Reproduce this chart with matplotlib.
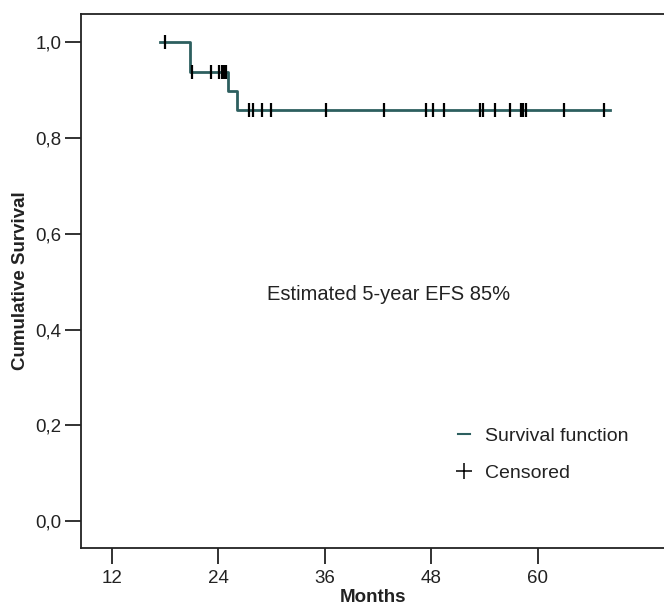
import matplotlib
matplotlib.use("Agg")
import matplotlib.pyplot as plt
from matplotlib.lines import Line2D

# Kaplan-Meier steps (months, cumulative survival)
step_times = [17.4, 20.8, 25.1, 26.1, 68.1]
step_surv = [1.0, 0.9375, 0.898, 0.859, 0.859]

# censored observations (months) and the survival level at each
censor_times = [18.0, 21.0, 23.2, 24.1, 24.4, 24.6, 24.85,
                27.4, 27.9, 28.9, 29.9, 36.1, 42.6, 47.4, 48.2, 49.4,
                53.5, 53.8, 55.2, 56.85, 58.05, 58.35, 58.65, 62.9, 67.4]
censor_surv = [1.0] + [0.9375] * 6 + [0.859] * 18

x_ticks = [12, 24, 36, 48, 60]
y_ticks = [0.0, 0.2, 0.4, 0.6, 0.8, 1.0]
y_tick_labels = ["0,0", "0,2", "0,4", "0,6", "0,8", "1,0"]

line_color = "#2d5f5f"
text_color = "#222222"
plt.rcParams["font.family"] = ["Liberation Sans", "DejaVu Sans"]

fig = plt.figure(figsize=(6.64, 6.08), dpi=100)
ax = fig.add_axes([0.1224, 0.0987, 0.8776, 0.8788])

ax.step(step_times, step_surv, where="post", color=line_color, lw=2.0)
ax.plot(censor_times, censor_surv, linestyle="none", marker="|",
        color="black", markersize=10, markeredgewidth=1.6)

ax.set_xlim(8.54, 74.2)
ax.set_ylim(-0.0564, 1.0598)
ax.set_xticks(x_ticks)
ax.set_yticks(y_ticks)
ax.set_yticklabels(y_tick_labels)
ax.tick_params(length=11.5, width=1.3, labelsize=13.5, colors=text_color, pad=3)
ax.tick_params(axis="x", pad=4)
for side in ["left", "top", "bottom"]:
    ax.spines[side].set_linewidth(1.3)
    ax.spines[side].set_color(text_color)
ax.spines["right"].set_visible(False)

ax.set_xlabel("Months", fontsize=13.5, fontweight="bold", labelpad=2,
              color=text_color)
ax.set_ylabel("Cumulative Survival", fontsize=13.5, fontweight="bold",
              labelpad=4, color=text_color)

ax.text(43.2, 0.474, "Estimated 5-year EFS 85%", fontsize=14.5,
        color=text_color, ha="center", va="center")

handles = [
    Line2D([], [], color=line_color, lw=1.5),
    Line2D([], [], linestyle="none", marker="+", color="black",
           markersize=11, markeredgewidth=1.1),
]
ax.legend(handles, ["Survival function", "Censored"], frameon=False,
          loc="upper left", bbox_to_anchor=(0.617, 0.258), fontsize=14,
          handlelength=0.6, handletextpad=0.75, labelspacing=1.0,
          labelcolor=text_color)

fig.savefig("out.png", dpi=100)
